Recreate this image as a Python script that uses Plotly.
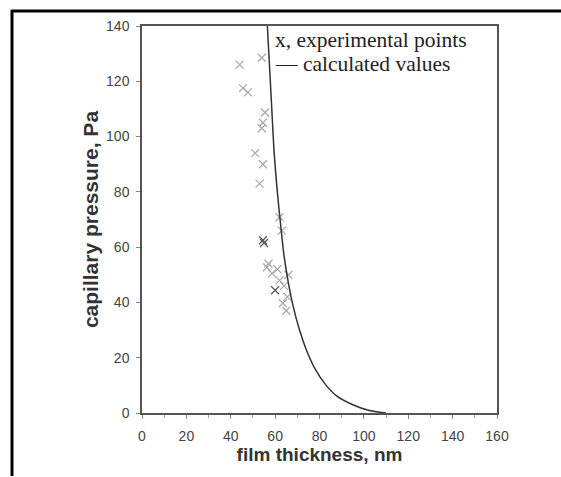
import plotly.graph_objects as go

# calculated curve (film thickness nm, capillary pressure Pa)
calc_h = [56.5, 57.5, 58.5, 59.5, 61, 62.5, 64, 66, 68, 71, 74, 78, 83, 88, 95, 102, 110]
calc_p = [140, 125, 110, 95, 80, 68, 57, 47, 39, 30, 23, 16, 10, 6, 3, 1, 0]

# experimental points
exp_h = [44, 45.5, 47.7, 54, 55.4, 54.5, 54, 51, 54.5, 53, 62, 63, 54.5, 55, 56.3, 58.6,
         60, 62, 63.5, 65, 64, 66, 57, 61, 65.5]
exp_p = [126, 117.5, 116, 128.5, 108.7, 105, 103, 94, 90, 83, 70.8, 66, 62.5, 61.5, 52.7, 50.5,
         44.4, 48, 39.7, 37, 46, 50, 54, 52, 42]

x_ticks = [0, 20, 40, 60, 80, 100, 120, 140, 160]
y_ticks = [0, 20, 40, 60, 80, 100, 120, 140]

dark = {12, 13, 16}
marker_colors = ["#555555" if i in dark else "#a8a8a8" for i in range(len(exp_h))]

fig = go.Figure()
fig.add_trace(go.Scatter(
    x=exp_h, y=exp_p, mode="markers",
    marker=dict(symbol="x-thin", size=8, line=dict(width=1.2, color=marker_colors)),
    showlegend=False))
fig.add_trace(go.Scatter(
    x=calc_h, y=calc_p, mode="lines",
    line=dict(color="#333333", width=1.5, shape="spline", smoothing=0.8),
    showlegend=False))

axis_common = dict(showline=True, linecolor="#555555", linewidth=1.5, mirror=True,
                   ticks="outside", ticklen=4, tickcolor="#888888", showgrid=False, zeroline=False,
                   tickfont=dict(family="Arial, Liberation Sans", size=14, color="#444444"))

fig.update_xaxes(range=[0, 160], tickvals=x_ticks, ticktext=[str(v) for v in x_ticks],
                 minor=dict(ticks="outside", dtick=10, ticklen=3, tickcolor="#aaaaaa"),
                 ticklabelstandoff=5,
                 title=dict(text="<b>film thickness, nm</b>", standoff=2,
                            font=dict(family="Arial, Liberation Sans", size=19, color="#333333")),
                 **axis_common)
fig.update_yaxes(range=[0, 140], tickvals=y_ticks, ticktext=[str(v) for v in y_ticks],
                 ticklabelstandoff=4,
                 title=dict(text="<b>capillary pressure, Pa</b>", standoff=2,
                            font=dict(family="Arial, Liberation Sans", size=21, color="#333333")),
                 **axis_common)

W, H = 561, 477
L, R, T, B = 142, 497, 26, 413
pw, ph = R - L, B - T

def px(xp):
    return (xp - L) / pw

def py(yp):
    return (B - yp) / ph

shapes = [
    dict(type="line", xref="paper", yref="paper", x0=px(11), x1=px(561), y0=py(11), y1=py(11),
         line=dict(color="black", width=3)),
    dict(type="line", xref="paper", yref="paper", x0=px(12), x1=px(12), y0=py(10), y1=py(476),
         line=dict(color="black", width=3)),
]

annotations = [
    dict(text="x, experimental points", xref="paper", yref="paper", x=px(273), y=py(40),
         xanchor="left", yanchor="middle", showarrow=False,
         font=dict(family="Liberation Serif, Times New Roman", size=21.5, color="#222222")),
    dict(text="— calculated values", xref="paper", yref="paper", x=px(273), y=py(64),
         xanchor="left", yanchor="middle", showarrow=False,
         font=dict(family="Liberation Serif, Times New Roman", size=21.5, color="#222222")),
]

fig.update_layout(width=W, height=H, margin=dict(l=L, r=W - R, t=T, b=H - B),
                  paper_bgcolor="white", plot_bgcolor="white",
                  shapes=shapes, annotations=annotations, showlegend=False)

fig.write_html("out.html")
